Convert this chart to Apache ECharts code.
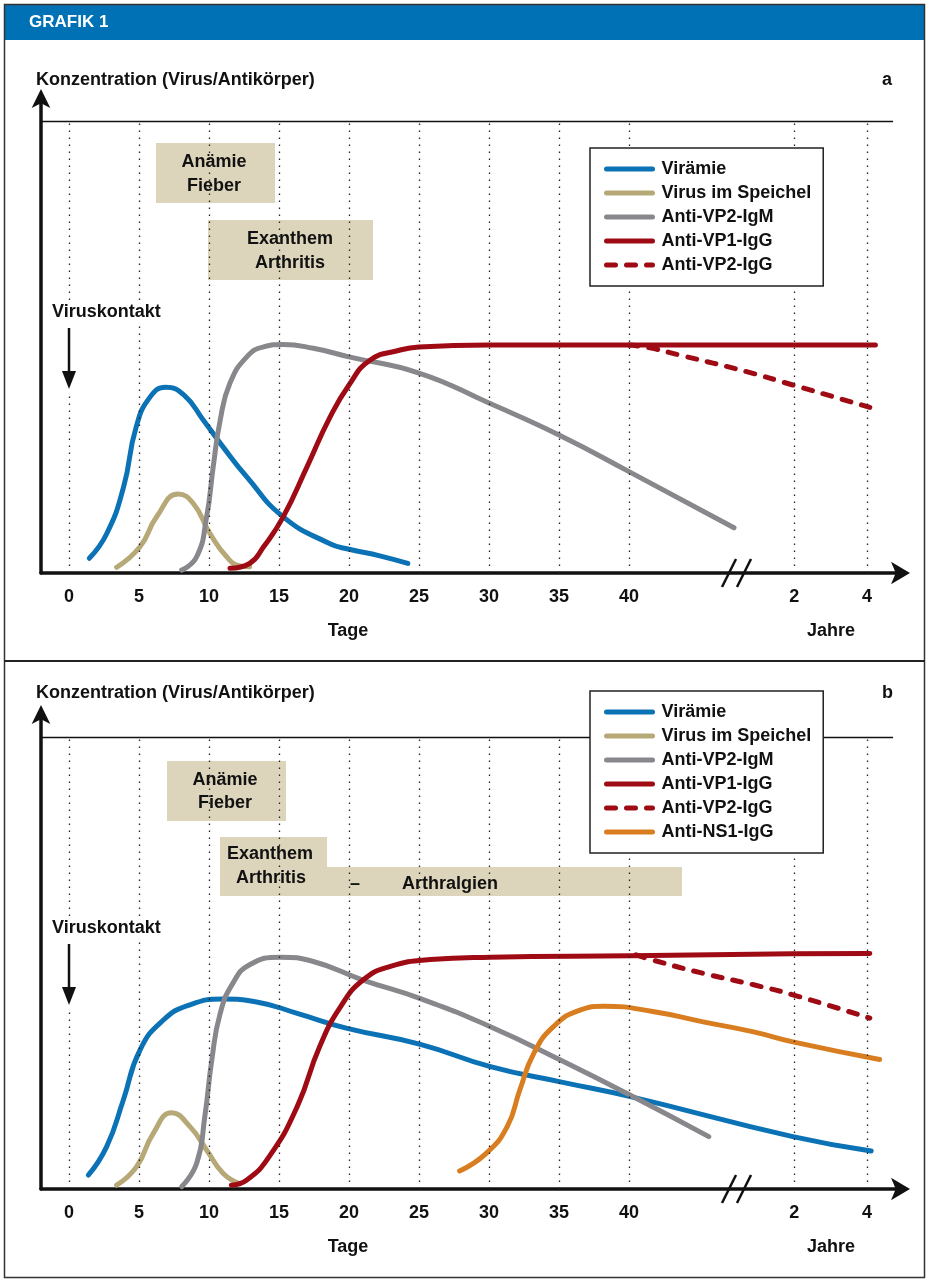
<!DOCTYPE html>
<html><head><meta charset="utf-8">
<script src="https://cdn.jsdelivr.net/npm/echarts@6/dist/echarts.min.js"></script>
<style>html,body{margin:0;padding:0;background:#fff}#c{width:929px;height:1281px}</style>
</head><body><div id="c"></div>
<script>
// ---------- data ----------
const tickValues = [0, 5, 10, 15, 20, 25, 30, 35, 40, 51.8, 57];
const tickLabels = ['0', '5', '10', '15', '20', '25', '30', '35', '40', '2', '4'];
const seriesNames = ['Virämie', 'Virus im Speichel', 'Anti-VP2-IgM', 'Anti-VP1-IgG', 'Anti-VP2-IgG', 'Anti-NS1-IgG'];
const seriesColors = ['#0b72b5', '#b7a977', '#88888c', '#9f0b14', '#9f0b14', '#d97e20'];

// Panel a  [day-position, concentration]
const a_viraemie = [[1.45,3.1],[2.7,8.3],[3.9,18.1],[4.8,30.7],[5.8,37.0],[6.9,39.0],[8.2,37.4],[9.6,32.1],[11.0,26.5],[12.7,20.2],[15.3,11.8],[18.6,6.2],[20,5.0],[22.2,3.6],[24.2,2.0]];
const a_speichel = [[3.4,1.2],[5.07,5.5],[6.26,11.8],[7.8,16.6],[8.88,14.6],[10.07,8.3],[11.26,3.4],[12.2,1.5],[12.9,1.3]];
const a_igm = [[8.05,0.6],[9.12,3.4],[9.83,11.8],[10.3,22.3],[10.8,32.1],[11.5,39.9],[12.7,45.4],[13.9,47.5],[15.3,48.0],[17.45,47.2],[20,45.4],[25,42.0],[30,35.7],[35,29.0],[40,21.3],[47.5,9.5]];
const a_vp1igg = [[11.5,1.0],[12.9,2.0],[13.9,5.5],[15.3,11.8],[17.0,22.3],[18.6,32.5],[20,39.5],[21.5,44.7],[23.6,46.8],[25,47.5],[30,47.9],[40,47.9],[57.6,47.9]];
const a_vp2igg = [[40,47.9],[41.5,47.3],[43.6,45.8],[48.4,42.3],[51.7,39.5],[57.2,34.8]];

// Panel b
const b_viraemie = [[1.38,2.9],[2.69,8.9],[3.88,18.7],[5.07,29.2],[6.74,35.5],[8.64,38.7],[11.0,39.9],[13.4,39.3],[16.3,36.9],[19.8,33.8],[25.1,30.4],[30.1,25.7],[35.1,22.5],[40.1,19.4],[51.7,11.0],[57.3,8.0]];
const b_speichel = [[3.4,0.8],[4.83,4.7],[6.02,11.7],[7.33,16.0],[8.64,13.1],[9.83,8.2],[11.0,3.3],[12.2,1.1]];
const b_igm = [[8.05,0.5],[9.12,5.4],[9.7,15.2],[10.2,27.1],[10.8,36.9],[11.7,43.2],[12.9,47.1],[15.1,48.7],[17.45,47.8],[21.0,43.9],[25.1,40.0],[30.1,34.1],[35.1,27.1],[40.1,19.7],[45.7,11.0]];
const b_vp1igg = [[11.6,0.8],[12.7,1.9],[14.3,6.8],[16.3,17.3],[17.9,29.9],[19.4,38.3],[21.0,43.9],[22.9,46.7],[25.8,48.2],[30.1,48.7],[40.1,49.0],[51.7,49.4],[57.2,49.5]];
const b_vp2igg = [[40.5,49.2],[41.7,48.1],[45.3,45.3],[48.9,42.9],[51.7,40.8],[57.2,35.9]];
const b_ns1igg = [[27.9,3.8],[29.8,7.5],[31.3,13.1],[32.2,20.8],[33.2,28.5],[34.6,34.1],[36.5,37.6],[38.2,38.4],[41.7,37.3],[45.3,35.1],[48.9,33.0],[51.7,30.9],[57.9,27.2]];

const panelA = [a_viraemie, a_speichel, a_igm, a_vp1igg, a_vp2igg];
const panelB = [b_viraemie, b_speichel, b_igm, b_vp1igg, b_vp2igg, b_ns1igg];

// ---------- chart ----------
const FONT = "'Liberation Sans', Arial, sans-serif";
const chart = echarts.init(document.getElementById('c'), null, {renderer: 'canvas'});
const labelMap = {};
tickValues.forEach((v, i) => labelMap[v] = tickLabels[i]);

const GRID_LEFT = 41, GRID_W = 861, GRID_H = 476;
const gridTops = [97, 713];
const TOP_LINE = 95, XMIN = -2, XMAX = 59.5;

function xAxisFor(i) {
  return {
    gridIndex: i, type: 'value', min: XMIN, max: XMAX,
    axisLine: {show: true, onZero: false, lineStyle: {color: '#111', width: 3.5}, symbol: ['none', 'arrow'], symbolSize: [17, 19], symbolOffset: [0, 8]},
    axisTick: {show: false},
    splitLine: {show: false},
    axisLabel: {
      customValues: tickValues, margin: 15,
      fontFamily: FONT, fontWeight: 'bold', fontSize: 18, color: '#111',
      formatter: v => labelMap[v] !== undefined ? labelMap[v] : ''
    }
  };
}
function yAxisFor(i) {
  return {
    gridIndex: i, type: 'value', min: 0, max: 100,
    axisLine: {show: true, onZero: false, lineStyle: {color: '#111', width: 3.5}, symbol: ['none', 'arrow'], symbolSize: [14, 19], symbolOffset: [0, 8]},
    axisTick: {show: false}, axisLabel: {show: false}, splitLine: {show: false}
  };
}
function gridLinesSeries(i) {
  const data = tickValues.map(v => [{coord: [v, 0]}, {coord: [v, TOP_LINE]}]);
  data.push([{coord: [XMIN, TOP_LINE], lineStyle: {type: 'solid', width: 1.3, color: '#111'}},
             {coord: [58.86, TOP_LINE]}]);
  return {
    type: 'line', name: '_grid' + i, xAxisIndex: i, yAxisIndex: i, data: [[XMIN, 0]],
    showSymbol: false, symbol: 'none', lineStyle: {width: 0}, z: 1, silent: true,
    markLine: {
      silent: true, symbol: ['none', 'none'], animation: false, label: {show: false},
      lineStyle: {type: [1.4, 5.6], width: 1.3, color: '#222'},
      emphasis: {disabled: true},
      data: data
    }
  };
}
function curveSeries(i, idx, data) {
  const dashed = seriesNames[idx] === 'Anti-VP2-IgG';
  return {
    type: 'line', name: seriesNames[idx], xAxisIndex: i, yAxisIndex: i, data: data,
    smooth: 0.5, showSymbol: false, symbol: 'none', z: 3 + (dashed ? 1 : 0),
    color: seriesColors[idx],
    lineStyle: {width: 5, color: seriesColors[idx], cap: 'round', join: 'round', type: dashed ? [9, 11] : 'solid'},
    emphasis: {disabled: true}
  };
}

const series = [gridLinesSeries(0), gridLinesSeries(1)];
panelA.forEach((d, k) => series.push(curveSeries(0, k, d)));
panelB.forEach((d, k) => series.push(curveSeries(1, k, d)));

const legendCommon = {
  orient: 'vertical', left: 590, selectedMode: false,
  borderColor: '#222', borderWidth: 1.5, backgroundColor: '#fff',
  padding: [11, 12, 11, 14], itemWidth: 46, itemHeight: 20, itemGap: 4, z: 10,
  itemStyle: {opacity: 0},
  lineStyle: {width: 5, cap: 'round'},
  textStyle: {fontFamily: FONT, fontWeight: 'bold', fontSize: 18, color: '#111', padding: [0, 0, 0, 4], lineHeight: 20}
};

const txt = (x, y, text, extra) => ({type: 'text', x: x, y: y, style: Object.assign({text: text, fill: '#111', font: 'bold 18px ' + FONT, textVerticalAlign: 'middle'}, extra || {})});
const rect = (x, y, w, h) => ({type: 'rect', shape: {x: x, y: y, width: w, height: h}, style: {fill: '#ddd5bb'}, z: 5});
const line = (x1, y1, x2, y2, w, c) => ({type: 'line', shape: {x1, y1, x2, y2}, style: {stroke: c || '#111', lineWidth: w || 1}, z: 6});

const graphics = [
  {type: 'rect', shape: {x: 4, y: 4, width: 921, height: 36}, style: {fill: '#0071b5'}, z: 6},
  txt(29, 22, 'GRAFIK 1', {fill: '#fff', font: 'bold 17px ' + FONT}),
  {type: 'rect', shape: {x: 4.5, y: 4.5, width: 920, height: 1273}, style: {fill: null, stroke: '#333', lineWidth: 1.5}, z: 6},
  line(4, 661, 925, 661, 2, '#222'),
];
[0, 616].forEach((o, p) => {
  graphics.push(txt(36, 80 + o - (p ? 3 : 0), 'Konzentration (Virus/Antikörper)'));
  graphics.push(txt(882, 80 + o - (p ? 3 : 0), p ? 'b' : 'a'));
  graphics.push(txt(52, 312 + o, 'Viruskontakt', {backgroundColor: '#fff', padding: [3, 0, 3, 0]}));
  graphics.push({type: 'rect', shape: {x: 64, y: 326 + o, width: 10, height: 66}, style: {fill: '#fff'}, z: 6});
  graphics.push(line(69, 328 + o, 69, 374 + o, 2.5));
  graphics.push({type: 'polygon', shape: {points: [[62, 371 + o], [76, 371 + o], [69, 389 + o]]}, style: {fill: '#111'}, z: 7});
  graphics.push(txt(348, 631 + o, 'Tage', {textAlign: 'center'}));
  graphics.push(txt(831, 631 + o, 'Jahre', {textAlign: 'center'}));
  graphics.push(line(722, 587 + o, 736, 559 + o, 2.5));
  graphics.push(line(737, 587 + o, 751, 559 + o, 2.5));
});
// panel a annotation boxes
graphics.push(rect(156, 143, 119, 60));
graphics.push(txt(214, 162, 'Anämie', {textAlign: 'center', z: 7}));
graphics.push(txt(214, 186, 'Fieber', {textAlign: 'center', z: 7}));
graphics.push(rect(208, 220, 165, 60));
graphics.push(txt(290, 239, 'Exanthem', {textAlign: 'center'}));
graphics.push(txt(290, 263, 'Arthritis', {textAlign: 'center'}));
// panel b annotation boxes
graphics.push(rect(167, 761, 119, 60));
graphics.push(txt(225, 780, 'Anämie', {textAlign: 'center'}));
graphics.push(txt(225, 803, 'Fieber', {textAlign: 'center'}));
graphics.push(rect(220, 837, 107, 31));
graphics.push(rect(220, 867, 462, 29));
graphics.push(txt(227, 854, 'Exanthem'));
graphics.push(txt(271, 878, 'Arthritis', {textAlign: 'center'}));
graphics.push(txt(355, 884, '–', {textAlign: 'center'}));
graphics.push(txt(402, 884, 'Arthralgien'));
graphics.forEach(g => { if (g.z === undefined) g.z = 7; });

chart.setOption({
  animation: false,
  backgroundColor: '#fff',
  grid: gridTops.map(t => ({left: GRID_LEFT, top: t, width: GRID_W, height: GRID_H})),
  xAxis: [xAxisFor(0), xAxisFor(1)],
  yAxis: [yAxisFor(0), yAxisFor(1)],
  legend: [
    Object.assign({}, legendCommon, {top: 148, data: seriesNames.slice(0, 5)}),
    Object.assign({}, legendCommon, {top: 691, data: seriesNames.slice()})
  ],
  series: series,
  graphic: graphics
});
</script></body></html>
